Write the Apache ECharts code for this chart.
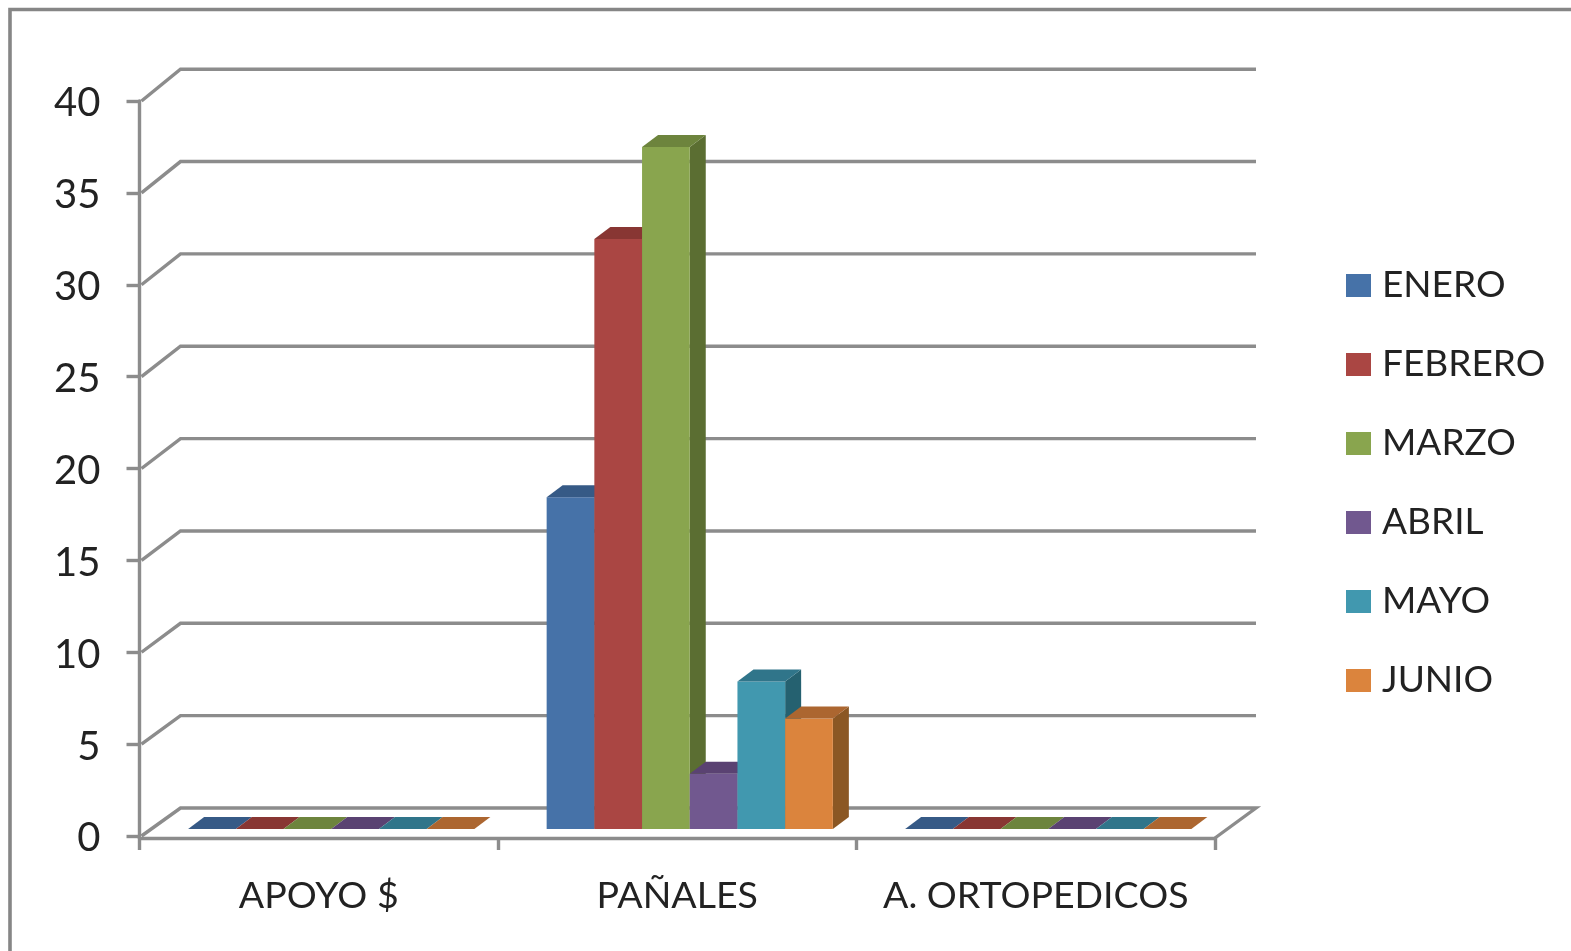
<!DOCTYPE html>
<html>
<head>
<meta charset="utf-8">
<style>html,body{margin:0;padding:0;background:#fff;overflow:hidden}#c{width:1571px;height:951px;filter:blur(0.6px)}</style>
<script src="https://cdn.jsdelivr.net/npm/echarts@6/dist/echarts.min.js"></script>
</head>
<body>
<div id="c"></div>
<script>
const categories = ['APOYO $', 'PAÑALES', 'A. ORTOPEDICOS'];
const seriesNames = ['ENERO', 'FEBRERO', 'MARZO', 'ABRIL', 'MAYO', 'JUNIO'];
const enero = [0, 18, 0];
const febrero = [0, 32, 0];
const marzo = [0, 37, 0];
const abril = [0, 3, 0];
const mayo = [0, 8, 0];
const junio = [0, 6, 0];
const yTicks = [0, 5, 10, 15, 20, 25, 30, 35, 40];
const seriesValues = [enero, febrero, marzo, abril, mayo, junio];
const frontColors = ['#4672A8', '#AA4643', '#89A54E', '#71588F', '#4198AF', '#DB843D'];
const topColors = ['#365A86', '#883633', '#6D843D', '#5A4272', '#30758A', '#AC6630'];
const sideColors = ['#2B4A70', '#6E2C2A', '#5B6E32', '#4A3660', '#256170', '#8B5724'];

const GRID = '#8C8C8C', TEXT = '#222222', FONT = 'Lato';
const D = {wallX: 41, barX: 12.5, barY: 7, depthX: 16, depthY: 12, barW: 47.7};

function renderWall(params, api) {
  const v = api.value(0);
  const band = api.size([1, 0])[0];
  const y = api.coord([0, v])[1];
  const x0 = api.coord([0, v])[0] - band / 2;
  const x1 = api.coord([categories.length - 1, v])[0] + band / 2;
  const backY = y - 28 - v * 0.095;
  const pts = [[x0 + 2, y], [x0 + D.wallX, backY], [x1 + D.wallX, backY]];
  if (v === 0) pts.push([x1, y + 2]);
  return {type: 'polyline', shape: {points: pts}, style: {fill: null, stroke: GRID, lineWidth: 3.4, lineJoin: 'miter'}};
}

function renderBar(idx) {
  return function (params, api) {
    const c = api.value(0), v = api.value(1);
    const center = api.coord([c, 0]);
    const n = seriesNames.length;
    const xl = center[0] + D.barX - n * D.barW / 2 + idx * D.barW;
    const xr = xl + D.barW;
    const yb = center[1] - D.barY;
    const yt = api.coord([c, v])[1] - D.barY - v * 0.06;
    const dx = D.depthX, dy = D.depthY;
    const children = [];
    if (v > 0) {
      children.push({type: 'polygon', shape: {points: [[xr, yt], [xr + dx, yt - dy], [xr + dx, yb - dy], [xr, yb]]}, style: {fill: sideColors[idx]}});
      children.push({type: 'rect', shape: {x: xl, y: yt, width: D.barW, height: yb - yt}, style: {fill: frontColors[idx]}});
    }
    children.push({type: 'polygon', shape: {points: [[xl, yt], [xl + dx, yt - dy], [xr + dx, yt - dy], [xr, yt]]}, style: {fill: topColors[idx]}});
    return {type: 'group', children};
  };
}

const chart = echarts.init(document.getElementById('c'), null, {renderer: 'canvas'});
chart.setOption({
  animation: false,
  backgroundColor: '#fff',
  color: frontColors,
  textStyle: {fontFamily: FONT},
  grid: {left: 139.5, right: 356, top: 101, bottom: 115, containLabel: false},
  graphic: [{
    type: 'rect', z: 100,
    shape: {x: 10, y: 9.5, width: 1700, height: 1100},
    style: {fill: null, stroke: '#868686', lineWidth: 3.6}
  }],
  legend: {
    show: true, orient: 'vertical', left: 1341, top: 262,
    itemWidth: 25, itemHeight: 23, itemGap: 42,
    icon: 'rect',
    data: seriesNames,
    textStyle: {fontFamily: FONT, fontSize: 37, color: TEXT, padding: [0, 0, 0, 6]}
  },
  xAxis: {
    type: 'category', data: categories, offset: 2,
    axisLine: {show: true, onZero: false, lineStyle: {color: GRID, width: 3.4}},
    axisTick: {show: true, alignWithLabel: false, length: 12, lineStyle: {color: GRID, width: 3.4}},
    axisLabel: {fontFamily: FONT, fontSize: 37.5, color: TEXT, margin: 39, interval: 0},
    splitLine: {show: false}
  },
  yAxis: {
    type: 'value', min: 0, max: 40, interval: 5,
    axisLine: {show: true, lineStyle: {color: GRID, width: 3.4}},
    axisTick: {show: true, length: 13, lineStyle: {color: GRID, width: 3.4}},
    axisLabel: {
      margin: 39,
      formatter: '{n|{value}}',
      rich: {n: {fontFamily: FONT, fontSize: 40, color: TEXT, padding: [5, 0, 0, 0]}}
    },
    splitLine: {show: false}
  },
  series: [{
    type: 'custom', name: 'wall', silent: true, z: 1,
    coordinateSystem: 'cartesian2d',
    data: yTicks.map(v => [v]),
    encode: {y: 0},
    renderItem: renderWall
  }].concat(seriesNames.map((name, i) => ({
    type: 'custom', name, z: 2 + i,
    coordinateSystem: 'cartesian2d',
    itemStyle: {color: frontColors[i]},
    data: categories.map((c, k) => [k, seriesValues[i][k]]),
    encode: {x: 0, y: 1},
    renderItem: renderBar(i)
  })))
});
</script>
</body>
</html>
